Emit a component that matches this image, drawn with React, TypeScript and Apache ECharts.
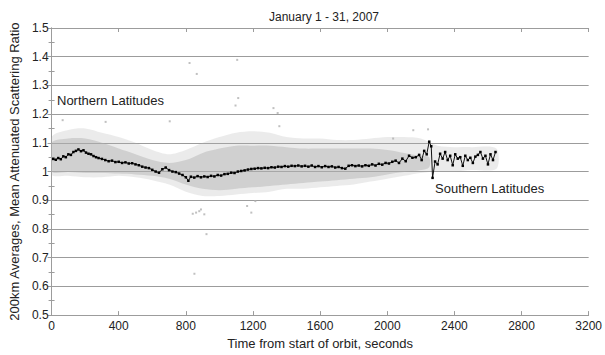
import React, { useEffect, useRef } from "react";
import * as echarts from "echarts";

const titleText = "January 1 - 31, 2007";
const xName = "Time from start of orbit, seconds";
const yName = "200km Averages, Mean Attenuated Scattering Ratio";
const northLabel = "Northern Latitudes";
const southLabel = "Southern Latitudes";

// Mean (200 km averages) line
const meanTime = [
  10, 25, 40, 55, 70, 85, 100, 115, 130, 145, 160, 175, 190, 205, 220, 235, 250, 265, 280, 300,
  320, 340, 360, 380, 400, 420, 440, 460, 480, 500, 520, 540, 560, 580, 600, 620, 640, 660, 680, 700,
  720, 740, 760, 780, 800, 815, 830, 850, 870, 890, 910, 930, 950, 970, 990, 1010, 1030, 1050, 1070, 1090,
  1110, 1130, 1150, 1170, 1190, 1210, 1230, 1250, 1270, 1290, 1310, 1330, 1350, 1370, 1390, 1410, 1430, 1450, 1470, 1490,
  1510, 1530, 1550, 1570, 1590, 1610, 1630, 1650, 1670, 1690, 1710, 1730, 1750, 1770, 1790, 1810, 1830, 1850, 1870, 1890,
  1910, 1930, 1950, 1970, 1990, 2010, 2030, 2050, 2070, 2090, 2110, 2130, 2150, 2170, 2190, 2205, 2220, 2235, 2250, 2262,
  2270, 2285, 2300, 2315, 2330, 2345, 2360, 2375, 2390, 2405, 2420, 2435, 2450, 2465, 2480, 2495, 2510, 2525, 2540, 2555,
  2570, 2585, 2600, 2615, 2630, 2645,
];
const meanValue = [
  1.044, 1.041, 1.047, 1.043, 1.053, 1.05, 1.06, 1.058, 1.068, 1.072, 1.077, 1.071, 1.074, 1.066, 1.062, 1.06, 1.054, 1.05, 1.047, 1.044,
  1.04, 1.036, 1.038, 1.033, 1.034, 1.03, 1.032, 1.028, 1.029, 1.025, 1.022, 1.017, 1.014, 1.012, 1.006, 1.0, 0.996, 1.008, 1.014, 1.005,
  1.0, 0.998, 0.993, 0.988, 0.98, 0.968, 0.982, 0.979, 0.984, 0.98, 0.983, 0.981, 0.985, 0.983, 0.988, 0.986, 0.991, 0.992, 0.996, 0.995,
  1.0, 1.002, 1.004, 1.007, 1.009, 1.01, 1.012, 1.011, 1.013, 1.012, 1.015, 1.014, 1.017, 1.016, 1.019, 1.017, 1.02, 1.019, 1.021, 1.018,
  1.02, 1.017, 1.021, 1.016, 1.019, 1.015, 1.019, 1.016, 1.018, 1.014, 1.016, 1.012, 1.01, 1.02, 1.022, 1.019, 1.021, 1.018, 1.022, 1.02,
  1.025, 1.021, 1.027, 1.024, 1.03, 1.028, 1.034, 1.038, 1.03, 1.045, 1.036, 1.055, 1.048, 1.05, 1.058, 1.04, 1.072, 1.06, 1.104, 1.088,
  0.978, 1.035, 1.025, 1.062, 1.045, 1.068, 1.04, 1.055, 1.022, 1.06, 1.045, 1.05, 1.02, 1.055, 1.04, 1.048, 1.03, 1.052, 1.058, 1.068,
  1.045, 1.055, 1.025, 1.06, 1.04, 1.068,
];

// Envelope of the sparse part of the point cloud
const outerTime = [0, 100, 200, 300, 400, 500, 600, 700, 800, 900, 1000, 1100, 1200, 1300, 1400, 1500, 1600, 1700, 1800, 1900, 2000, 2100, 2200, 2300, 2400, 2500, 2650];
const outerLow = [0.99, 0.985, 0.98, 0.98, 0.985, 0.98, 0.97, 0.955, 0.93, 0.915, 0.915, 0.92, 0.925, 0.93, 0.94, 0.94, 0.945, 0.95, 0.955, 0.965, 0.975, 0.985, 0.995, 1.0, 1.0, 1.005, 1.01];
const outerHigh = [1.12, 1.145, 1.15, 1.135, 1.12, 1.1, 1.075, 1.06, 1.075, 1.1, 1.12, 1.135, 1.14, 1.135, 1.12, 1.115, 1.115, 1.11, 1.11, 1.115, 1.12, 1.12, 1.115, 1.09, 1.085, 1.085, 1.08];

// Envelope of the dense core of the point cloud
const innerTime = [0, 100, 200, 300, 400, 500, 600, 700, 800, 900, 1000, 1100, 1200, 1300, 1400, 1500, 1600, 1700, 1800, 1900, 2000, 2100, 2200, 2250];
const innerLow = [1.0, 0.998, 0.995, 0.995, 0.993, 0.99, 0.985, 0.975, 0.955, 0.94, 0.935, 0.94, 0.945, 0.95, 0.955, 0.96, 0.965, 0.97, 0.975, 0.98, 0.99, 0.998, 1.005, 1.015];
const innerHigh = [1.1, 1.115, 1.115, 1.1, 1.08, 1.06, 1.04, 1.03, 1.04, 1.065, 1.08, 1.09, 1.09, 1.09, 1.085, 1.08, 1.08, 1.08, 1.08, 1.08, 1.075, 1.065, 1.055, 1.05];

// Isolated points outside the cloud
const outlierTime = [822, 865, 1106, 1112, 1096, 1322, 1347, 1357, 704, 322, 66, 841, 880, 910, 923, 851, 861, 890, 1165, 1190, 1214, 2243, 2155, 2035];
const outlierValue = [1.378, 1.34, 1.389, 1.256, 1.23, 1.221, 1.204, 1.158, 1.175, 1.173, 1.179, 0.853, 0.862, 0.851, 0.782, 0.644, 0.857, 0.868, 0.88, 0.857, 0.897, 1.147, 1.144, 1.115];

const FONT = "'Liberation Sans', Arial, Helvetica, sans-serif";
const TXT = "#222";
const GRID = "#9c9c9c";

function bandSeries(times: number[], lo: number[], hi: number[], fill: string) {
  return {
    type: "custom",
    silent: true,
    clip: true,
    z: 1,
    data: [[times[0], lo[0]]],
    renderItem: (_params: any, api: any) => {
      const pts: number[][] = [];
      for (let i = 0; i < times.length; i++) pts.push(api.coord([times[i], hi[i]]));
      for (let i = times.length - 1; i >= 0; i--) pts.push(api.coord([times[i], lo[i]]));
      return { type: "polygon", shape: { points: pts, smooth: 0.3 }, style: { fill, stroke: null } };
    },
  };
}

export default function App() {
  const ref = useRef<HTMLDivElement>(null);
  useEffect(() => {
    if (!ref.current) return;
    const chart = echarts.init(ref.current, undefined, { renderer: "svg" });
    const xCommon = {
      type: "value",
      min: 0,
      max: 3200,
      interval: 400,
      splitLine: { show: false },
      axisLine: { show: true, lineStyle: { color: GRID, width: 1 } },
      axisTick: { show: true, inside: true, length: 4, lineStyle: { color: GRID } },
    };
    const yCommon = {
      type: "value",
      min: 0.5,
      max: 1.5,
      interval: 0.1,
      axisLine: { show: true, lineStyle: { color: GRID, width: 1 } },
      axisTick: { show: true, inside: true, length: 4, lineStyle: { color: GRID } },
      minorTick: { show: true, splitNumber: 2, length: 3, lineStyle: { color: GRID } },
    };
    chart.setOption({
      animation: false,
      backgroundColor: "#fff",
      title: {
        text: titleText,
        left: 319,
        textAlign: "center",
        top: 6,
        textStyle: { fontFamily: FONT, fontSize: 12, fontWeight: "normal", color: TXT },
      },
      grid: { left: 47, top: 28, right: 14, bottom: 36 },
      xAxis: [
        {
          ...xCommon,
          position: "bottom",
          axisLabel: {
            color: TXT,
            fontSize: 12,
            fontFamily: FONT,
            margin: 5,
            formatter: (v: number) => String(Math.round(v)),
          },
          name: xName,
          nameLocation: "middle",
          nameGap: 19,
          nameTextStyle: { color: TXT, fontSize: 13, fontFamily: FONT },
        },
        { ...xCommon, position: "top", axisLabel: { show: false } },
      ],
      yAxis: [
        {
          ...yCommon,
          position: "left",
          splitLine: { show: true, lineStyle: { color: GRID, width: 1 } },
          axisLabel: {
            color: TXT,
            fontSize: 12,
            fontFamily: FONT,
            margin: 3,
            formatter: (v: number) => String(Math.round(v * 10) / 10),
          },
          name: yName,
          nameLocation: "middle",
          nameGap: 26,
          nameTextStyle: { color: TXT, fontSize: 13, fontFamily: FONT },
        },
        { ...yCommon, position: "right", splitLine: { show: false }, axisLabel: { show: false } },
      ],
      graphic: [
        {
          type: "text",
          left: 57,
          top: 94,
          style: { text: northLabel, fill: TXT, font: `13px ${FONT}` },
        },
        {
          type: "text",
          left: 435,
          top: 182,
          style: { text: southLabel, fill: TXT, font: `13px ${FONT}` },
        },
      ],
      series: [
        bandSeries(outerTime, outerLow, outerHigh, "rgba(175,175,175,0.25)"),
        bandSeries(innerTime, innerLow, innerHigh, "rgba(175,175,175,0.45)"),
        {
          type: "scatter",
          silent: true,
          symbol: "rect",
          symbolSize: 2,
          itemStyle: { color: "#b0b0b0" },
          data: outlierTime.map((t, i) => [t, outlierValue[i]]),
          z: 2,
        },
        {
          type: "line",
          silent: true,
          symbol: "rect",
          symbolSize: 2.5,
          showSymbol: true,
          itemStyle: { color: "#000" },
          lineStyle: { color: "#111", width: 1 },
          data: meanTime.map((t, i) => [t, meanValue[i]]),
          z: 5,
        },
      ],
    });
    return () => chart.dispose();
  }, []);
  return (
    <div
      ref={ref}
      style={{ position: "fixed", left: 0, top: 0, width: 605, height: 355, background: "#fff" }}
    />
  );
}
